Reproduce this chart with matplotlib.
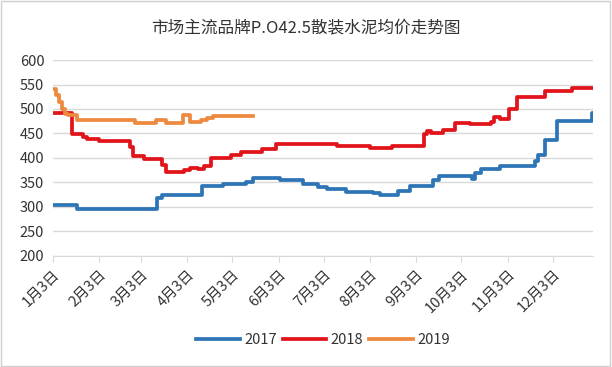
import matplotlib
matplotlib.use('Agg')
import matplotlib.pyplot as plt
from matplotlib.patches import Rectangle

plt.rcParams['font.family'] = ['Noto Sans CJK SC', 'DejaVu Sans']

title = "市场主流品牌P.O42.5散装水泥均价走势图"

# x axis: days counted from 1月3日
tick_days = [0, 31, 59, 90, 120, 151, 181, 212, 243, 273, 304, 334]
tick_labels = ["1月3日", "2月3日", "3月3日", "4月3日", "5月3日", "6月3日",
               "7月3日", "8月3日", "9月3日", "10月3日", "11月3日", "12月3日"]

# price levels, each held until the next change day
days_2017 = [0, 16, 70, 73, 100, 114, 129, 134, 152, 167, 177, 183, 196, 214, 219,
             231, 239, 254, 258, 280, 282, 286, 299, 322, 324, 329, 337, 360, 361]
vals_2017 = [305, 295, 318, 325, 342, 347, 352, 360, 356, 346, 340, 337, 331, 328, 324,
             333, 343, 355, 363, 357, 370, 377, 384, 394, 406, 437, 476, 492, 492]

days_2018 = [0, 13, 20, 23, 31, 52, 54, 61, 73, 76, 88, 92, 97, 101, 106, 119, 126,
             140, 149, 190, 212, 227, 248, 250, 253, 261, 269, 279, 293, 295, 299,
             305, 310, 329, 347, 361]
vals_2018 = [492, 449, 443, 439, 435, 422, 404, 397, 385, 371, 375, 380, 377, 384, 401,
             406, 412, 418, 428, 424, 421, 424, 448, 455, 452, 457, 472, 469, 474, 484,
             479, 500, 524, 537, 542, 542]

days_2019 = [0, 2, 4, 6, 8, 10, 16, 55, 69, 76, 87, 92, 99, 103, 107, 134]
vals_2019 = [540, 528, 514, 500, 490, 487, 478, 471, 478, 471, 487, 474, 477, 482, 485, 485]

fig = plt.figure(figsize=(6.12, 3.67), dpi=100)
ax = fig.add_axes([0.086, 0.3025, 0.883, 0.534])

ax.step(days_2017, vals_2017, where='post', color='#2E75B6', lw=2.7, label='2017')
ax.step(days_2018, vals_2018, where='post', color='#E0141A', lw=2.7, label='2018')
ax.step(days_2019, vals_2019, where='post', color='#ED8A3F', lw=2.7, label='2019')

ax.set_xlim(0, 361)
ax.set_ylim(200, 600)
ax.set_yticks(range(200, 601, 50))
ax.yaxis.grid(True, color='#D9D9D9', lw=1)
ax.set_axisbelow(True)
for s in ['left', 'right', 'top']:
    ax.spines[s].set_visible(False)
ax.spines['bottom'].set_color('#D9D9D9')
ax.tick_params(axis='y', length=0, labelsize=10.5, labelcolor='#333333', pad=6)
ax.set_xticks(tick_days)
ax.set_xticklabels(tick_labels, rotation=45, ha='right', va='top',
                   rotation_mode='anchor', fontsize=10.5, color='#333333')
ax.tick_params(axis='x', length=4, color='#D9D9D9', pad=4)

fig.text(0.5, 0.925, title, ha='center', va='center', fontsize=12, color='#333333')
ax.legend(loc='center', bbox_to_anchor=(0.5, -0.43), ncol=3, frameon=False,
          fontsize=10.5, handlelength=3, columnspacing=0.4, handletextpad=0.3,
          labelcolor='#333333')

fig.patches.append(Rectangle((0.002, 0.003), 0.995, 0.994, transform=fig.transFigure,
                             fill=False, edgecolor='#D0D0D0', lw=1))

fig.savefig('out.png', dpi=100)
